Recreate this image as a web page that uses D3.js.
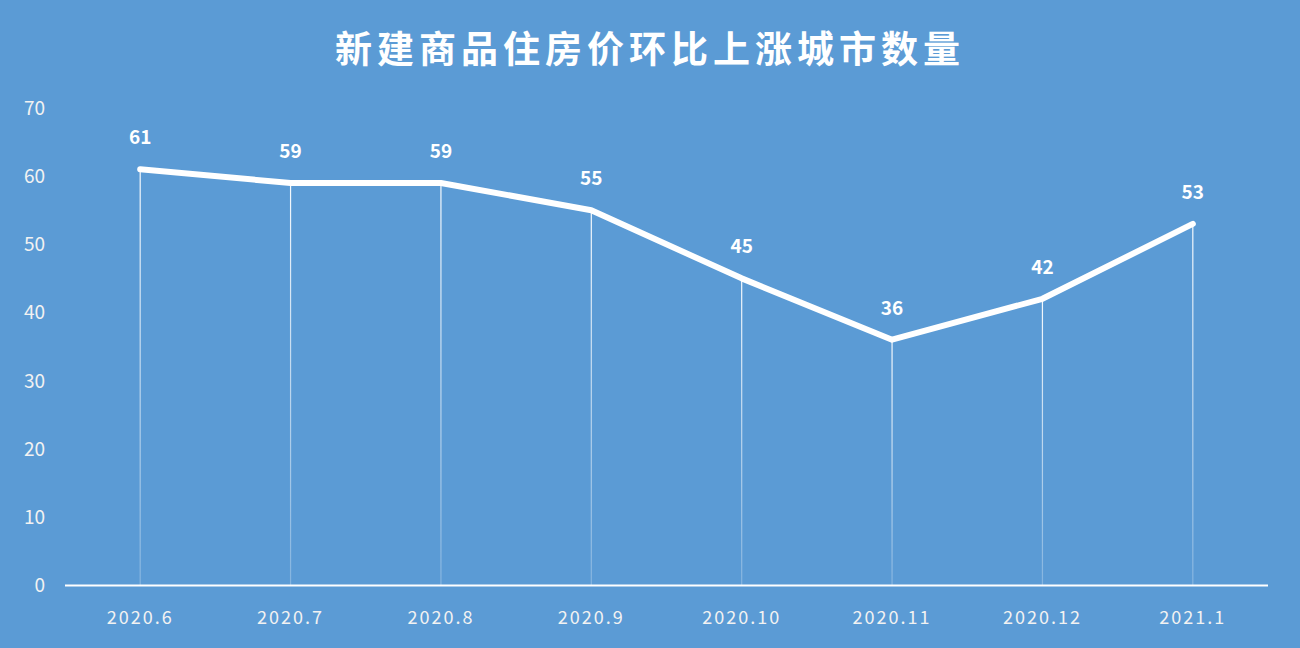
<!DOCTYPE html>
<html><head><meta charset="utf-8">
<script src="https://cdn.jsdelivr.net/npm/d3@7/dist/d3.min.js"></script>
<style>body{margin:0;background:#5b9bd5}</style></head>
<body><svg id="c" width="1300" height="648"></svg>
<script>
const categories=["2020.6","2020.7","2020.8","2020.9","2020.10","2020.11","2020.12","2021.1"];
const values=[61,59,59,55,45,36,42,53];
const yTicks=[0,10,20,30,40,50,60,70];
const title="新建商品住房价环比上涨城市数量";
const svg=d3.select("#c");
svg.append("rect").attr("width",1300).attr("height",648).attr("fill","#5b9bd5");
const defs=svg.append("defs");
const g=defs.append("linearGradient").attr("id","fade").attr("x1",0).attr("x2",0).attr("y1",0).attr("y2",1);
g.append("stop").attr("offset","0%").attr("stop-color","#fff").attr("stop-opacity",0.95);
g.append("stop").attr("offset","100%").attr("stop-color","#fff").attr("stop-opacity",0.25);
const x=d3.scaleBand().domain(categories).range([65,1268]);
const y=d3.scaleLinear().domain([0,70]).range([585,108]);
const font="'Noto Sans CJK SC','Noto Sans',sans-serif";
svg.append("text").attr("x",650).attr("y",63).attr("text-anchor","middle").attr("fill","#fff")
 .attr("font-family",font).attr("font-weight","bold").attr("font-size",37).attr("letter-spacing",5).text(title);
svg.selectAll(".yt").data(yTicks).enter().append("text").attr("x",45).attr("y",d=>y(d)+7)
 .attr("text-anchor","end").attr("fill","#f2f2f2").attr("font-family",font).attr("font-size",19).text(d=>d);
svg.append("line").attr("x1",65).attr("x2",1268).attr("y1",585.5).attr("y2",585.5).attr("stroke","#fff").attr("stroke-width",2);
const cx=d=>x(d)+x.bandwidth()/2;
svg.selectAll(".drop").data(categories).enter().append("rect")
 .attr("x",d=>cx(d)-0.6).attr("width",1.2).attr("y",(d,i)=>y(values[i])).attr("height",(d,i)=>585-y(values[i]))
 .attr("fill","url(#fade)");
svg.append("path").datum(values).attr("fill","none").attr("stroke","#fff").attr("stroke-width",6).attr("stroke-linejoin","round").attr("stroke-linecap","round")
 .attr("d",d3.line().x((d,i)=>cx(categories[i])).y(d=>y(d)));
svg.selectAll(".lab").data(values).enter().append("text").attr("x",(d,i)=>cx(categories[i])).attr("y",d=>y(d)-25)
 .attr("text-anchor","middle").attr("fill","#fff").attr("font-family",font).attr("font-weight","bold").attr("font-size",19).text(d=>d);
svg.selectAll(".xt").data(categories).enter().append("text").attr("x",d=>cx(d)).attr("y",624)
 .attr("text-anchor","middle").attr("fill","#f2f2f2").attr("font-family",font).attr("font-size",18).attr("letter-spacing",2).text(d=>d);
</script></body></html>
